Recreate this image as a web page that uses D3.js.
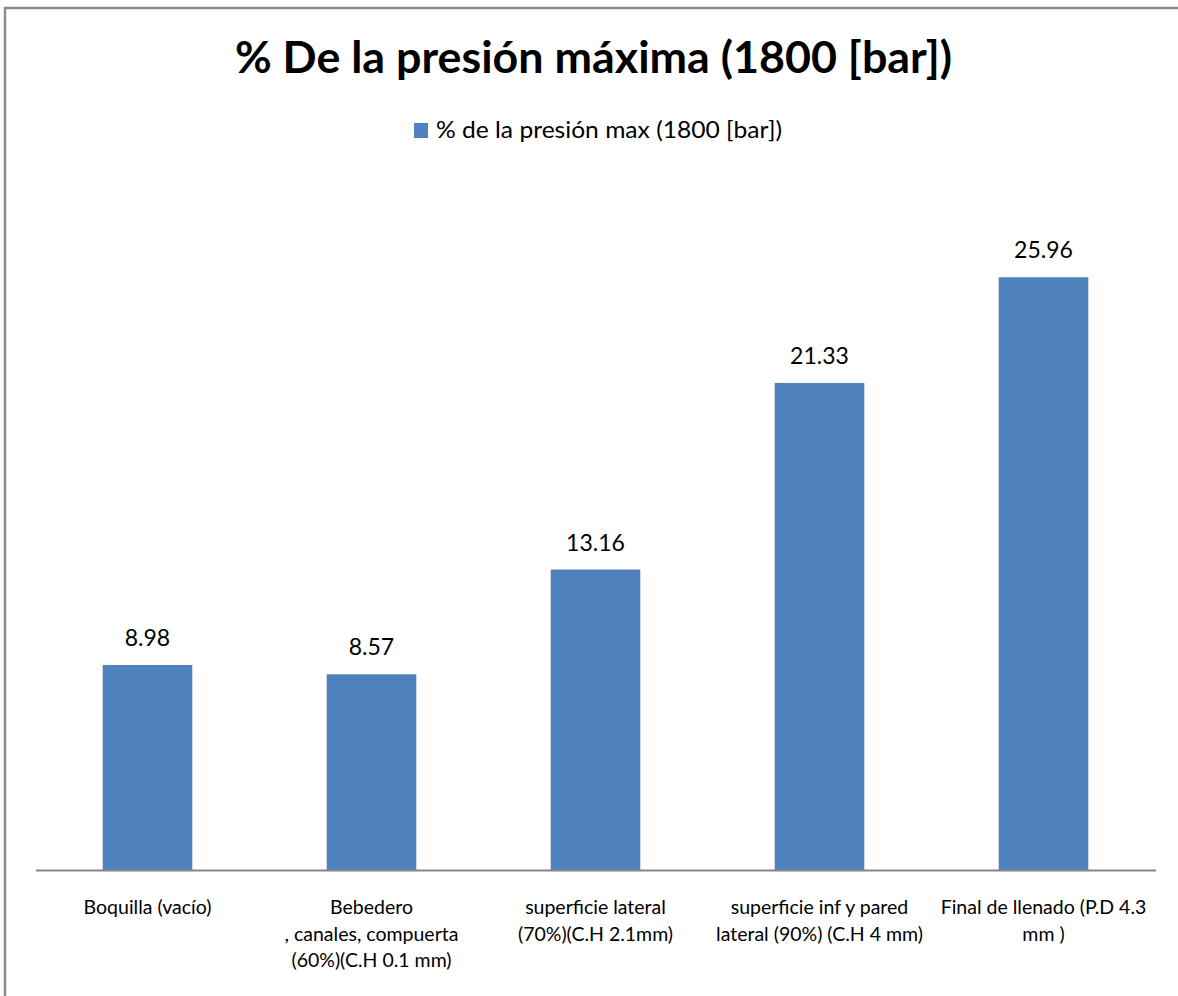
<!DOCTYPE html>
<html>
<head>
<meta charset="utf-8">
<script src="https://cdn.jsdelivr.net/npm/d3@7"></script>
<style>
  html, body { margin: 0; padding: 0; background: #fff; }
  svg { display: block; }
  text { font-family: Lato, "Open Sans", sans-serif; fill: #000; }
</style>
</head>
<body>
<svg id="chart" width="1178" height="996"></svg>
<script>
// ---- data ----
const categories = [
  "Boquilla (vacío)",
  "Bebedero , canales, compuerta (60%)(C.H 0.1 mm)",
  "superficie lateral (70%)(C.H 2.1mm)",
  "superficie inf y pared lateral (90%) (C.H 4 mm)",
  "Final de llenado (P.D 4.3 mm )"
];
const categoryLines = [
  ["Boquilla (vacío)"],
  ["Bebedero", ", canales, compuerta", "(60%)(C.H 0.1 mm)"],
  ["superficie lateral", "(70%)(C.H 2.1mm)"],
  ["superficie inf y pared", "lateral (90%) (C.H 4 mm)"],
  ["Final de llenado (P.D 4.3", "mm )"]
];
const values = [8.98, 8.57, 13.16, 21.33, 25.96];
const seriesName = "% de la presión max (1800 [bar])";
const titleText = "% De la presión máxima (1800 [bar])";

// ---- layout ----
const svg = d3.select("#chart");
const W = 1178, H = 996;
const plot = { left: 35.5, right: 1155.5, top: 185, bottom: 870 };
const barColor = "#4F81BD";

// border (chart area frame)
svg.append("path")
  .attr("d", `M5,${H} L5,8 L${W},8`)
  .attr("fill", "none")
  .attr("stroke", "#8c8c8c")
  .attr("stroke-width", 2.5);

const x = d3.scaleBand()
  .domain(categories)
  .range([plot.left, plot.right])
  .paddingInner(0.6)
  .paddingOuter(0.3);

const y = d3.scaleLinear()
  .domain([0, 30])
  .range([plot.bottom, plot.top]);

// title
svg.append("text")
  .attr("x", 593.5)
  .attr("y", 73)
  .attr("text-anchor", "middle")
  .attr("textLength", 717)
  .attr("lengthAdjust", "spacingAndGlyphs")
  .style("font-size", "44px")
  .style("font-weight", "bold")
  .text(titleText);

// legend
const legend = svg.append("g");
legend.append("rect")
  .attr("x", 414).attr("y", 123)
  .attr("width", 14).attr("height", 15)
  .attr("fill", barColor);
legend.append("text")
  .attr("x", 436).attr("y", 138)
  .attr("textLength", 346)
  .attr("lengthAdjust", "spacingAndGlyphs")
  .style("font-size", "23px")
  .text(seriesName);

// bars
svg.append("g").selectAll("rect")
  .data(values)
  .join("rect")
  .attr("x", (d, i) => x(categories[i]))
  .attr("width", x.bandwidth())
  .attr("y", d => y(d))
  .attr("height", d => y(0) - y(d))
  .attr("fill", barColor);

// data labels
svg.append("g").selectAll("text")
  .data(values)
  .join("text")
  .attr("x", (d, i) => x(categories[i]) + x.bandwidth() / 2)
  .attr("y", d => y(d) - 19)
  .attr("text-anchor", "middle")
  .style("font-size", "23px")
  .text(d => d.toFixed(2));

// x axis
const xAxis = d3.axisBottom(x).tickSize(0).tickFormat("");
const axisG = svg.append("g")
  .attr("transform", `translate(0,${plot.bottom})`)
  .call(xAxis);
axisG.select(".domain")
  .attr("stroke", "#868686")
  .attr("stroke-width", 2);

// category labels (wrapped)
const catG = svg.append("g");
categories.forEach((c, i) => {
  const t = catG.append("text")
    .attr("text-anchor", "middle")
    .style("font-size", "19.5px");
  categoryLines[i].forEach((line, j) => {
    t.append("tspan")
      .attr("x", x(c) + x.bandwidth() / 2)
      .attr("y", 914 + j * 26.5)
      .text(line);
  });
});
</script>
</body>
</html>
